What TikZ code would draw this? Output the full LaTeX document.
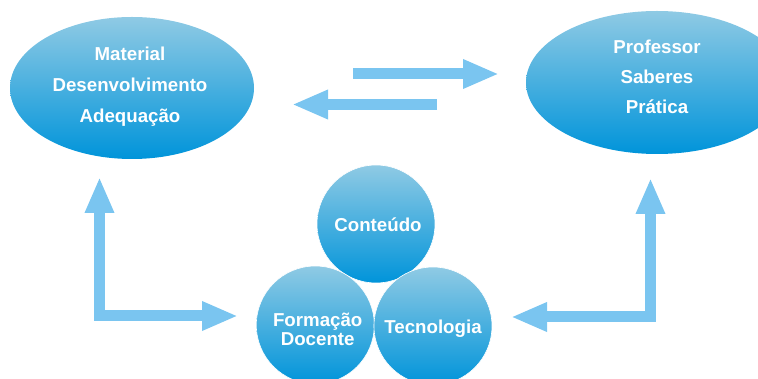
\documentclass[tikz,border=0pt]{standalone}
\usepackage{fontspec}
\setmainfont{Liberation Sans}
\usetikzlibrary{shapes.geometric,arrows.meta}
\definecolor{arr}{RGB}{122,197,240}
\definecolor{gtop}{RGB}{143,202,228}
\definecolor{gmid}{RGB}{0,170,226}
\definecolor{gbot}{RGB}{0,148,218}
\begin{document}
\begin{tikzpicture}[x=1pt,y=-1pt,
  blob/.style={ellipse, inner sep=0pt, draw=none, top color=gtop, middle color=gmid, bottom color=gbot},
  ball/.style={circle, inner sep=0pt, minimum size=118pt, draw=white, line width=0.6pt, top color=gtop, middle color=gmid, bottom color=gbot},
  lbl/.style={text=white, font=\fontsize{18.7}{31}\selectfont\bfseries, align=center, inner sep=0pt},
  lbltight/.style={text=white, font=\fontsize{18.7}{19.3}\selectfont\bfseries, align=center, inner sep=0pt},
  bigline/.style={draw=arr, line width=11pt, line join=miter, line cap=butt},
  twohead/.style={bigline, {Triangle[width=27pt,length=36pt]}-{Triangle[width=27pt,length=36pt]}},
  onehead/.style={bigline, -{Triangle[width=27pt,length=36pt]}}
]
\useasboundingbox (0,0) rectangle (758,379);
\clip (0,0) rectangle (758,379);

% big ellipses
\node[blob, minimum width=244pt, minimum height=142pt] (L) at (132,88) {};
\node[blob, minimum width=262pt, minimum height=143pt] (R) at (657,82.5) {};
\node[lbl] (Lt) at (130,86.9) {Material\\Desenvolvimento\\Adequação};
\node[lbl, font=\fontsize{18.7}{30}\selectfont\bfseries] (Rt) at (657,77.2) {Professor\\Saberes\\Prática};

% circles
\node[ball] (C) at (376,224) {};
\node[ball] (F) at (315.3,325) {};
\node[ball] (T) at (433,326) {};
\node[lbl, anchor=base] (Ct) at (378,231.7) {Conteúdo};
\node[lbltight] (Ft) at (317.7,329.2) {Formação\\Docente};
\node[lbl, anchor=base] (Tt) at (433,334) {Tecnologia};

% arrow end points
\coordinate (a1) at (99.5,177);
\coordinate (a2) at (238,316);
\coordinate (b1) at (650.5,178);
\coordinate (b2) at (511,317);
\coordinate (m1) at (353,74);
\coordinate (m2) at (499,74);
\coordinate (n1) at (437,104.5);
\coordinate (n2) at (292,104.5);

\draw[twohead] (a1) |- (a2);
\draw[twohead] (b1) |- (b2);
\draw[onehead] (m1) -- (m2);
\draw[onehead] (n1) -- (n2);
\end{tikzpicture}
\end{document}
